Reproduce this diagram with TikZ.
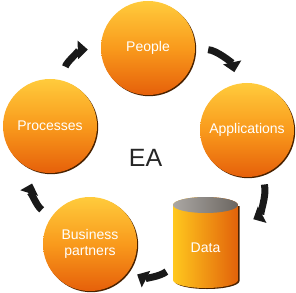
\documentclass[tikz,border=0pt]{standalone}
\usepackage{fontspec}
\setmainfont{Liberation Sans}
\usetikzlibrary{shadows,arrows.meta}
\definecolor{ortop}{HTML}{FFCB3C}
\definecolor{ormid}{HTML}{F99A1C}
\definecolor{orbot}{HTML}{E6600A}
\definecolor{rim}{HTML}{4A2200}
\definecolor{cylL}{HTML}{FFC81E}
\definecolor{cylR}{HTML}{E2620A}
\definecolor{capL}{HTML}{ABA7A3}
\definecolor{capR}{HTML}{6B6661}
\tikzset{
  ball/.style={circle, minimum size=94pt, inner sep=0pt, top color=ortop,
    bottom color=orbot, middle color=ormid,
    drop shadow={shadow xshift=1.2pt, shadow yshift=-1.2pt, fill=rim, opacity=1},
    text=white, font=\fontsize{14}{16}\selectfont, align=center},
  cyc/.style={line width=7pt, draw=black!90,
    -{Triangle[width=18pt,length=10pt,fill=black!90]},
    shorten <=12pt, shorten >=12pt},
}
\begin{document}
\begin{tikzpicture}[x=1pt,y=1pt]
\useasboundingbox (0,0) rectangle (296,292);
% Data cylinder
\fill[rim] (174.5,86) -- (174.5,11) arc[start angle=180,end angle=360,x radius=32.5,y radius=8]
  -- (239.5,86) -- cycle;
\path[left color=cylL, right color=cylR] (173,87) -- (173,12)
  arc[start angle=180,end angle=360,x radius=32.5,y radius=8]
  -- (238,87) arc[start angle=0,end angle=180,x radius=32.5,y radius=8] -- cycle;
\path[left color=capL, right color=capR] (205.5,87) ellipse[x radius=32.5,y radius=8];
\node[minimum width=65pt, minimum height=90pt, inner sep=0pt, text=white,
  font=\fontsize{14}{16}\selectfont] (data) at (205.5,44) {Data};
% Balls
\node[ball] (people) at (148,244) {People};
\node[ball] (proc) at (50,166) {Processes};
\node[ball] (apps) at (247,162) {Applications};
\node[ball] (bus) at (90,48) {\raisebox{4pt}{\begin{tabular}{@{}c@{}}Business\\partners\end{tabular}}};
\node[font=\fontsize{25}{30}\selectfont, text=black!85] (ea) at (145.5,134) {EA};
% Arrows
\draw[cyc, shorten <=13pt, shorten >=12pt] (people) to[bend left=38] (apps);
\draw[cyc, shorten <=10pt, shorten >=17pt] (apps) to[bend left=38] (data);
\draw[cyc, shorten <=8pt, shorten >=9pt] (data) to[bend left=32] (bus);
\draw[cyc, shorten <=12pt, shorten >=13pt] (bus) to[bend left=36] (proc);
\draw[cyc, shorten <=14pt, shorten >=13pt] (proc) to[bend left=37] (people);
\end{tikzpicture}
\end{document}
